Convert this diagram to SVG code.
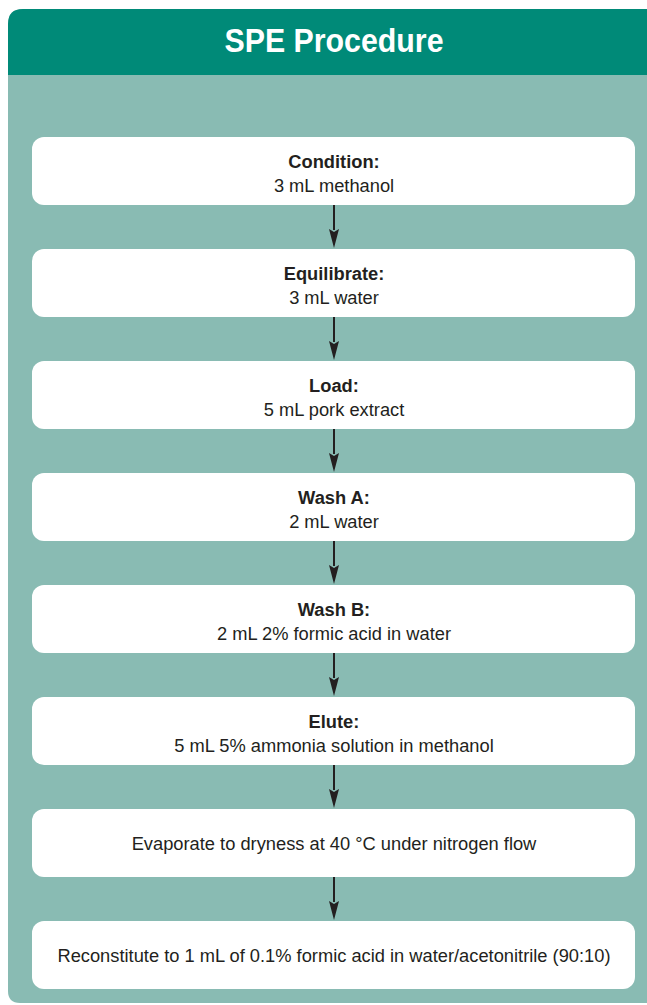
<svg xmlns="http://www.w3.org/2000/svg" width="647" height="1005" viewBox="0 0 647 1005">
<style>
.box{fill:#ffffff;}
.t{font-family:"Liberation Sans",Arial,sans-serif;font-size:18.3px;fill:#231f20;text-anchor:middle;}
.b{font-weight:bold;}
.title{font-family:"Liberation Sans",Arial,sans-serif;font-size:33px;font-weight:bold;fill:#ffffff;text-anchor:middle;}
.arrow{stroke:#231f20;stroke-width:2;fill:none;}
.head{fill:#231f20;}
</style>
<g id="panel">
<path d="M8,24 Q8,9 23,9 L647,9 L647,1003 L20,1003 Q8,1003 8,991 Z" fill="#89bbb3"/>
<path d="M8,24 Q8,9 23,9 L647,9 L647,75 L8,75 Z" fill="#008a78"/>
<text class="title" x="334" y="52" textLength="219" lengthAdjust="spacingAndGlyphs">SPE Procedure</text>
</g>
<g id="connectors">
<line class="arrow" x1="334" y1="205" x2="334" y2="230"/>
<path class="head" d="M329,229 L334,232 L339,229 L334,248 Z"/>
<line class="arrow" x1="334" y1="317" x2="334" y2="342"/>
<path class="head" d="M329,341 L334,344 L339,341 L334,360 Z"/>
<line class="arrow" x1="334" y1="429" x2="334" y2="454"/>
<path class="head" d="M329,453 L334,456 L339,453 L334,472 Z"/>
<line class="arrow" x1="334" y1="541" x2="334" y2="566"/>
<path class="head" d="M329,565 L334,568 L339,565 L334,584 Z"/>
<line class="arrow" x1="334" y1="653" x2="334" y2="678"/>
<path class="head" d="M329,677 L334,680 L339,677 L334,696 Z"/>
<line class="arrow" x1="334" y1="765" x2="334" y2="790"/>
<path class="head" d="M329,789 L334,792 L339,789 L334,808 Z"/>
<line class="arrow" x1="334" y1="877" x2="334" y2="902"/>
<path class="head" d="M329,901 L334,904 L339,901 L334,920 Z"/>
</g>
<g id="condition">
<rect class="box" x="32" y="137" width="603" height="68" rx="12"/>
<text class="t b" x="334" y="168">Condition:</text>
<text class="t" x="334" y="192">3 mL methanol</text>
</g>
<g id="equilibrate">
<rect class="box" x="32" y="249" width="603" height="68" rx="12"/>
<text class="t b" x="334" y="280">Equilibrate:</text>
<text class="t" x="334" y="304">3 mL water</text>
</g>
<g id="load">
<rect class="box" x="32" y="361" width="603" height="68" rx="12"/>
<text class="t b" x="334" y="392">Load:</text>
<text class="t" x="334" y="416">5 mL pork extract</text>
</g>
<g id="washA">
<rect class="box" x="32" y="473" width="603" height="68" rx="12"/>
<text class="t b" x="334" y="504">Wash A:</text>
<text class="t" x="334" y="528">2 mL water</text>
</g>
<g id="washB">
<rect class="box" x="32" y="585" width="603" height="68" rx="12"/>
<text class="t b" x="334" y="616">Wash B:</text>
<text class="t" x="334" y="640">2 mL 2% formic acid in water</text>
</g>
<g id="elute">
<rect class="box" x="32" y="697" width="603" height="68" rx="12"/>
<text class="t b" x="334" y="728">Elute:</text>
<text class="t" x="334" y="752">5 mL 5% ammonia solution in methanol</text>
</g>
<g id="evaporate">
<rect class="box" x="32" y="809" width="603" height="68" rx="12"/>
<text class="t" x="334" y="850">Evaporate to dryness at 40 °C under nitrogen flow</text>
</g>
<g id="reconstitute">
<rect class="box" x="32" y="921" width="603" height="68" rx="12"/>
<text class="t" x="334" y="962">Reconstitute to 1 mL of 0.1% formic acid in water/acetonitrile (90:10)</text>
</g>
</svg>
